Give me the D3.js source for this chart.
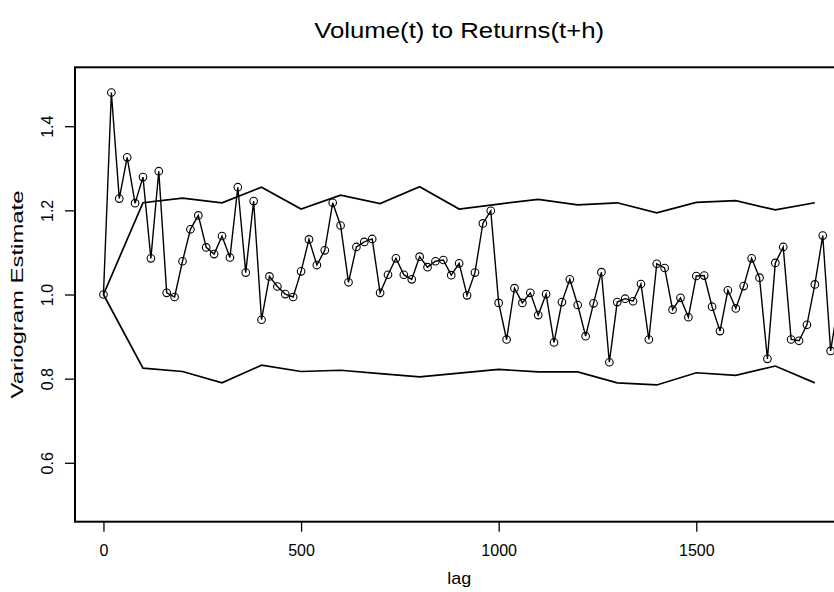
<!DOCTYPE html>
<html>
<head>
<meta charset="utf-8">
<script src="https://cdn.jsdelivr.net/npm/d3@7"></script>
<style>
  html, body { margin: 0; padding: 0; background: #ffffff; }
  svg { display: block; }
  text { font-family: "Liberation Sans", Arial, Helvetica, sans-serif; fill: #000; }
</style>
</head>
<body>
<svg id="chart" width="834" height="592"></svg>
<script>
// ---- data ----
const title = "Volume(t) to Returns(t+h)";
const xLabel = "lag";
const yLabel = "Variogram Estimate";

const lags = [0,20,40,60,80,100,120,140,160,180,200,220,240,260,280,300,320,340,360,380,
  400,420,440,460,480,500,520,540,560,580,600,620,640,660,680,700,720,740,760,780,
  800,820,840,860,880,900,920,940,960,980,1000,1020,1040,1060,1080,1100,1120,1140,1160,1180,
  1200,1220,1240,1260,1280,1300,1320,1340,1360,1380,1400,1420,1440,1460,1480,1500,1520,1540,1560,1580,
  1600,1620,1640,1660,1680,1700,1720,1740,1760,1780,1800,1820,1840,1860];

const variogram = [1.000,1.480,1.228,1.326,1.217,1.279,1.086,1.293,1.004,0.994,
  1.079,1.155,1.188,1.112,1.096,1.139,1.088,1.255,1.052,1.222,
  0.940,1.043,1.019,1.001,0.994,1.055,1.131,1.070,1.105,1.218,
  1.164,1.029,1.113,1.125,1.132,1.004,1.047,1.086,1.047,1.036,
  1.090,1.065,1.079,1.082,1.046,1.074,0.998,1.052,1.169,1.199,
  0.980,0.893,1.015,0.980,1.004,0.951,1.001,0.886,0.982,1.036,
  0.975,0.901,0.979,1.053,0.839,0.982,0.990,0.984,1.025,0.893,
  1.073,1.063,0.964,0.992,0.946,1.044,1.045,0.971,0.913,1.010,
  0.967,1.020,1.086,1.040,0.847,1.075,1.113,0.893,0.890,0.928,
  1.024,1.140,0.866,0.984];

const envLags = [0,100,200,300,400,500,600,700,800,900,1000,1100,1200,1300,1400,1500,1600,1700,1800];
const envUpper = [1.000,1.218,1.229,1.218,1.255,1.203,1.236,1.216,1.256,1.203,1.215,1.226,1.213,1.218,1.194,1.219,1.223,1.201,1.218];
const envLower = [1.000,0.825,0.817,0.790,0.832,0.817,0.820,0.812,0.804,0.813,0.822,0.816,0.816,0.790,0.785,0.814,0.808,0.830,0.790];

const xTicks = [0, 500, 1000, 1500];
const yTicks = [0.6, 0.8, 1.0, 1.2, 1.4];
const yTickLabels = ["0.6", "0.8", "1.0", "1.2", "1.4"];

// ---- layout ----
const plotLeft = 75, plotRight = 843.3, plotTop = 67.3, plotBottom = 521.7;

const svg = d3.select("#chart");
const x = d3.scaleLinear().domain([-72, 1872]).range([plotLeft, plotRight]);
const y = d3.scaleLinear().domain([0.46, 1.54]).range([plotBottom, plotTop]);

svg.append("defs").append("clipPath").attr("id", "plotclip")
  .append("rect").attr("x", plotLeft).attr("y", plotTop)
  .attr("width", plotRight - plotLeft).attr("height", plotBottom - plotTop);

const g = svg.append("g").attr("clip-path", "url(#plotclip)");

const line = d3.line().x(d => x(d[0])).y(d => y(d[1]));

// envelopes
g.append("path").datum(envLags.map((l, i) => [l, envUpper[i]]))
  .attr("d", line).attr("fill", "none").attr("stroke", "#000").attr("stroke-width", 1.7);
g.append("path").datum(envLags.map((l, i) => [l, envLower[i]]))
  .attr("d", line).attr("fill", "none").attr("stroke", "#000").attr("stroke-width", 1.7);

// variogram line + circles
const pts = lags.map((l, i) => [l, variogram[i]]);
g.append("path").datum(pts)
  .attr("d", line).attr("fill", "none").attr("stroke", "#000").attr("stroke-width", 1.4);
g.selectAll("circle.pt").data(pts).enter().append("circle")
  .attr("class", "pt")
  .attr("cx", d => x(d[0])).attr("cy", d => y(d[1]))
  .attr("r", 3.8).attr("fill", "none").attr("stroke", "#000").attr("stroke-width", 1.1);

// box
svg.append("rect").attr("x", plotLeft).attr("y", plotTop)
  .attr("width", plotRight - plotLeft).attr("height", plotBottom - plotTop)
  .attr("fill", "none").attr("stroke", "#000").attr("stroke-width", 2);

// x axis
const xAxis = d3.axisBottom(x).tickValues(xTicks).tickSize(10).tickPadding(13)
  .tickFormat(d3.format("d"));
const xg = svg.append("g").attr("transform", `translate(0,${plotBottom})`).call(xAxis);
xg.select(".domain").remove();
xg.selectAll(".tick line").attr("stroke", "#000").attr("stroke-width", 1.3);
xg.selectAll(".tick text").attr("font-size", 16).attr("font-family", "Liberation Sans, Arial, sans-serif")
  .attr("dy", null).attr("y", 34).attr("fill", "#000");

// y axis
const yAxis = d3.axisLeft(y).tickValues(yTicks).tickSize(10)
  .tickFormat((d, i) => yTickLabels[i]);
const yg = svg.append("g").attr("transform", `translate(${plotLeft},0)`).call(yAxis);
yg.select(".domain").remove();
yg.selectAll(".tick line").attr("stroke", "#000").attr("stroke-width", 1.3);
yg.selectAll(".tick text")
  .attr("font-size", 16).attr("font-family", "Liberation Sans, Arial, sans-serif")
  .attr("x", null).attr("dy", null)
  .attr("text-anchor", "middle")
  .attr("transform", "translate(-22,0) rotate(-90)")
  .attr("fill", "#000");

// title
svg.append("text").attr("x", (plotLeft + plotRight) / 2).attr("y", 38)
  .attr("text-anchor", "middle").attr("font-size", 22)
  .attr("textLength", 290).attr("lengthAdjust", "spacingAndGlyphs").text(title);

// axis labels
svg.append("text").attr("x", (plotLeft + plotRight) / 2).attr("y", 584)
  .attr("text-anchor", "middle").attr("font-size", 17)
  .attr("textLength", 24).attr("lengthAdjust", "spacingAndGlyphs").text(xLabel);
svg.append("text")
  .attr("transform", `translate(23,${(plotTop + plotBottom) / 2}) rotate(-90)`)
  .attr("text-anchor", "middle").attr("font-size", 17)
  .attr("textLength", 208).attr("lengthAdjust", "spacingAndGlyphs").text(yLabel);
</script>
</body>
</html>
